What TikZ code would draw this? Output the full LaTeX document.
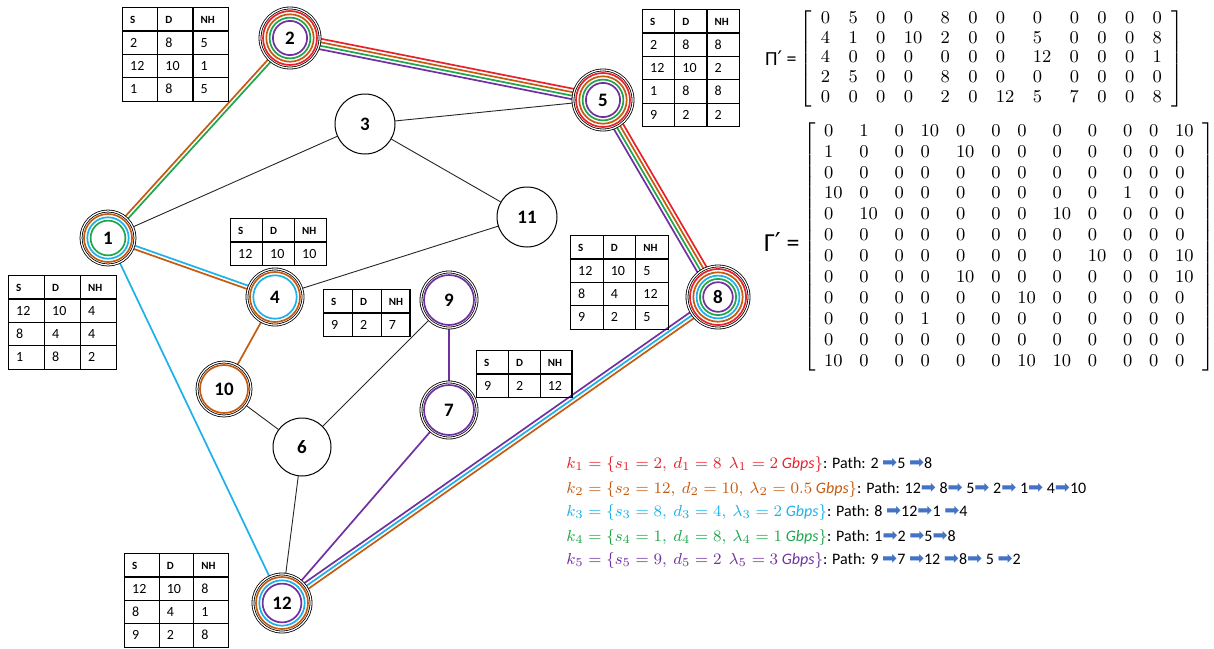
\documentclass[tikz,border=0pt]{standalone}
\usepackage{amsmath}
\usepackage{array}
\usepackage{fontspec}
\setmainfont{Carlito}
\newfontfamily\arrowfont{DejaVu Sans}
\usetikzlibrary{calc}
\usetikzlibrary{backgrounds}
\usepackage{xcolor}

\definecolor{fred}{HTML}{E8212B}
\definecolor{forange}{HTML}{C55A11}
\definecolor{fcyan}{HTML}{1DB1E8}
\definecolor{fgreen}{HTML}{1FA54B}
\definecolor{fpurple}{HTML}{7030A0}
\definecolor{arrblue}{HTML}{4472C4}

% routing table (cell width, rows)
\newcommand{\hd}[1]{{\fontsize{5.5}{6}\selectfont\bfseries #1}}
\newcommand{\rtab}[2]{%
  {\setlength{\tabcolsep}{3.5pt}\setlength{\arrayrulewidth}{0.6pt}%
   \renewcommand{\arraystretch}{1.32}\fontsize{7}{8.4}\selectfont
   \begin{tabular}{|*{3}{p{\dimexpr#1-7pt\relax}|}}\hline
   \hd{S} & \hd{D} & \hd{NH}\\\hline
   #2
   \end{tabular}}}

% coloured rings inside a node (node, first radius, colours)
\newcommand{\rings}[3]{%
  \foreach \c [count=\i] in {#3}
    \draw[\c, flow] (#1.center) circle[radius={#2pt-(\i-1)*1.65pt}];
}

% parallel flows between two nodes
\newcommand{\flowlines}[3]{%
  \foreach \c [count=\i] in {#3} {\xdef\nflow{\i}}%
  \foreach \c [count=\i] in {#3} {%
    \pgfmathsetmacro\off{((\nflow+1)/2-\i)*1.75}%
    \draw[\c, flow] ($(#1.center)!\off pt!90:(#2.center)$) -- ($(#2.center)!\off pt!-90:(#1.center)$);
  }%
}

\newcommand{\arr}{{\arrowfont\fontsize{9}{10}\selectfont\textcolor{arrblue}{➡}}}
\newcommand{\prm}{{\arrowfont ′}}

\begin{document}
\begin{tikzpicture}[x=0.5pt, y=-0.5pt,
    plain/.style={circle, draw, line width=0.5pt, fill=white, inner sep=0pt,
      minimum size=#1pt, font=\fontsize{9.5}{11}\selectfont\bfseries},
    plain/.default=29,
    busy/.style={plain=#1, double=white, double distance=0.6pt, line width=0.4pt},
    busy/.default=29,
    flow/.style={line width=0.85pt},
    link/.style={line width=0.45pt, black!85},
    tab/.style={anchor=north west, inner sep=0pt, outer sep=0pt},
    kline/.style={anchor=base west, inner sep=0pt, font=\fontsize{8}{10}\selectfont}]
    \useasboundingbox (0,0) rectangle (1214,648);

    % nodes
    \node[busy=27]  (n1)  at (108,238) {1};
    \node[busy=30]  (n2)  at (290,38)  {2};
    \node[plain=30] (n3)  at (365,124) {3};
    \node[busy=28]  (n4)  at (275,297) {4};
    \node[busy=30]  (n5)  at (603,100) {5};
    \node[plain=29] (n6)  at (302,447) {6};
    \node[busy=28]  (n7)  at (449,410) {7};
    \node[busy=31]  (n8)  at (718,297) {8};
    \node[busy=28]  (n9)  at (449,300) {9};
    \node[busy=27]  (n10) at (224,389) {10};
    \node[plain=30] (n11) at (527,217) {11};
    \node[busy=29]  (n12) at (282,603) {12};

    \rings{n1}{12}{forange,fcyan,fgreen}
    \rings{n2}{13.5}{fred,forange,fgreen,fpurple}
    \rings{n4}{12.5}{forange,fcyan}
    \rings{n5}{13.5}{fred,forange,fgreen,fpurple}
    \rings{n7}{12.5}{fpurple}
    \rings{n8}{14}{fred,forange,fcyan,fgreen,fpurple}
    \rings{n9}{12.5}{fpurple}
    \rings{n10}{12}{forange}
    \rings{n12}{13}{forange,fcyan,fpurple}

    % links and flows
    \begin{scope}[on background layer]
        \foreach \a/\b in {n1/n3, n3/n5, n3/n11, n11/n4, n10/n6, n6/n9, n6/n12}
            \draw[link] (\a) -- (\b);
        \flowlines{n1}{n2}{forange,fgreen}
        \flowlines{n2}{n5}{fred,forange,fgreen,fpurple}
        \flowlines{n5}{n8}{fred,forange,fgreen,fpurple}
        \flowlines{n8}{n12}{forange,fcyan,fpurple}
        \flowlines{n1}{n4}{fcyan,forange}
        \flowlines{n1}{n12}{fcyan}
        \flowlines{n4}{n10}{forange}
        \flowlines{n9}{n7}{fpurple}
        \flowlines{n7}{n12}{fpurple}
    \end{scope}

    % routing tables
    \node[tab] (t2)  at (122,7)   {\rtab{17pt}{2 & 8 & 5\\\hline 12 & 10 & 1\\\hline 1 & 8 & 5\\\hline}};
    \node[tab] (t1)  at (8,275)   {\rtab{17.4pt}{12 & 10 & 4\\\hline 8 & 4 & 4\\\hline 1 & 8 & 2\\\hline}};
    \node[tab] (t5)  at (642,9)   {\rtab{15.5pt}{2 & 8 & 8\\\hline 12 & 10 & 2\\\hline 1 & 8 & 8\\\hline 9 & 2 & 2\\\hline}};
    \node[tab] (t8)  at (570,235) {\rtab{15.7pt}{12 & 10 & 5\\\hline 8 & 4 & 12\\\hline 9 & 2 & 5\\\hline}};
    \node[tab] (t12) at (124,553) {\rtab{16.7pt}{12 & 10 & 8\\\hline 8 & 4 & 1\\\hline 9 & 2 & 8\\\hline}};
    \node[tab] (t4)  at (230,218) {\rtab{15.4pt}{12 & 10 & 10\\\hline}};
    \node[tab] (t9)  at (323,289) {\rtab{13.8pt}{9 & 2 & 7\\\hline}};
    \node[tab] (t7)  at (476,350) {\rtab{15.3pt}{9 & 2 & 12\\\hline}};

    % matrices
    \node[anchor=east, inner sep=0pt, font=\fontsize{10}{12}\selectfont] (pil) at (797,58) {Π\prm{} =};
    \node[anchor=west, inner sep=0pt, font=\fontsize{9.5}{10.2}\selectfont] (pim) at (799,59)
        {$\setlength{\arraycolsep}{4.6pt}\renewcommand{\arraystretch}{0.97}\left[\begin{array}{*{12}{l}}
        0&5&0&0&8&0&0&0&0&0&0&0\\
        4&1&0&10&2&0&0&5&0&0&0&8\\
        4&0&0&0&0&0&0&12&0&0&0&1\\
        2&5&0&0&8&0&0&0&0&0&0&0\\
        0&0&0&0&2&0&12&5&7&0&0&8
        \end{array}\right]$};
    \node[anchor=east, inner sep=0pt, font=\fontsize{13}{15}\selectfont] (gal) at (800,242) {Γ\prm{} =};
    \node[anchor=west, inner sep=0pt, font=\fontsize{9.5}{10.45}\selectfont] (gam) at (803,247)
        {$\setlength{\arraycolsep}{4.2pt}\left[\begin{array}{*{12}{l}}
        0&1&0&10&0&0&0&0&0&0&0&10\\
        1&0&0&0&10&0&0&0&0&0&0&0\\
        0&0&0&0&0&0&0&0&0&0&0&0\\
        10&0&0&0&0&0&0&0&0&1&0&0\\
        0&10&0&0&0&0&0&10&0&0&0&0\\
        0&0&0&0&0&0&0&0&0&0&0&0\\
        0&0&0&0&0&0&0&0&10&0&0&10\\
        0&0&0&0&10&0&0&0&0&0&0&10\\
        0&0&0&0&0&0&10&0&0&0&0&0\\
        0&0&0&1&0&0&0&0&0&0&0&0\\
        0&0&0&0&0&0&0&0&0&0&0&0\\
        10&0&0&0&0&0&10&10&0&0&0&0
        \end{array}\right]$};

    % demands
    \node[kline, text=fred] (k1) at (566,468)
        {$k_1 = \{s_1 = 2,\ d_1 = 8\ \ \lambda_1 = 2\ \mathit{Gbps}\}$\textcolor{black}{: Path: 2 \arr5 \arr8}};
    \node[kline, text=forange] (k2) at (566,493)
        {$k_2 = \{s_2 = 12,\ d_2 = 10,\ \lambda_2 = 0.5\ \mathit{Gbps}\}$\textcolor{black}{: Path: 12\arr\ 8\arr\ 5\arr\ 2\arr\ 1\arr\ 4\arr10}};
    \node[kline, text=fcyan] (k3) at (566,516)
        {$k_3 = \{s_3 = 8,\ d_3 = 4,\ \lambda_3 = 2\ \mathit{Gbps}\}$\textcolor{black}{: Path: 8 \arr12\arr1 \arr4}};
    \node[kline, text=fgreen] (k4) at (566,541)
        {$k_4 = \{s_4 = 1,\ d_4 = 8,\ \lambda_4 = 1\ \mathit{Gbps}\}$\textcolor{black}{: Path: 1\arr2 \arr5\arr8}};
    \node[kline, text=fpurple] (k5) at (566,564)
        {$k_5 = \{s_5 = 9,\ d_5 = 2\ \ \lambda_5 = 3\ \mathit{Gbps}\}$\textcolor{black}{: Path: 9 \arr7 \arr12 \arr8\arr\ 5 \arr2}};
\end{tikzpicture}
\end{document}
